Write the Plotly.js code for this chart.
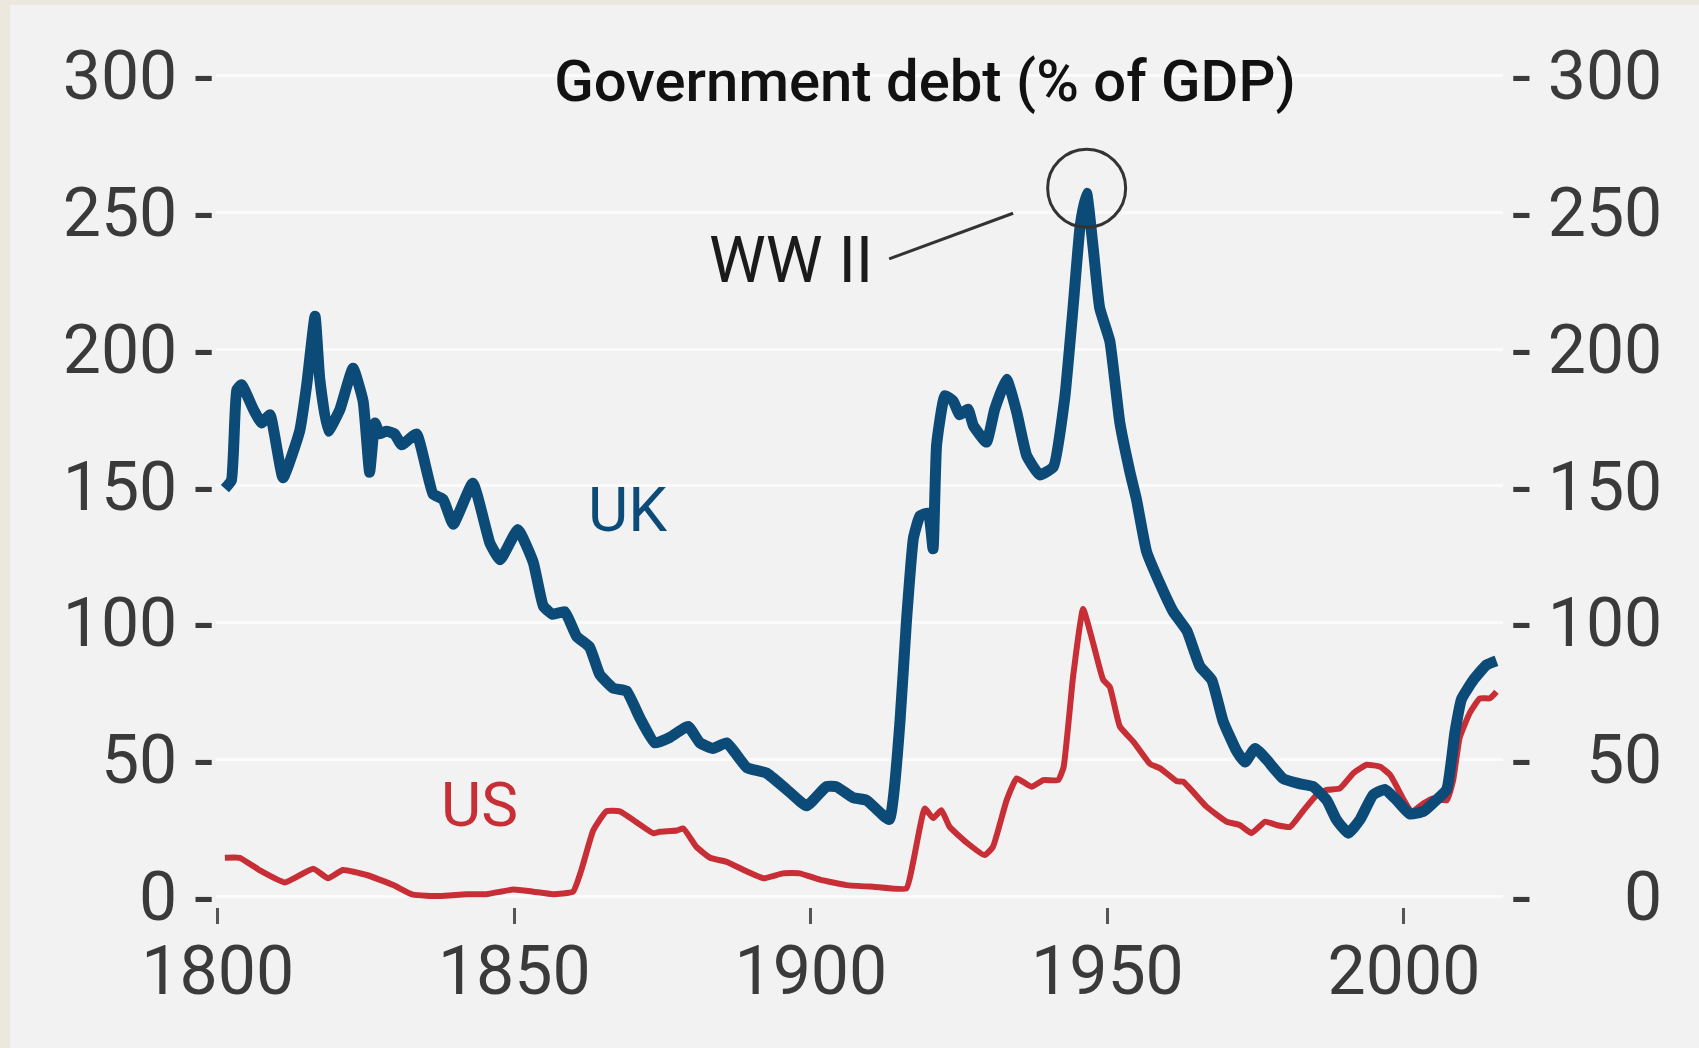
<!DOCTYPE html>
<html><head><meta charset="utf-8">
<script src="https://cdn.plot.ly/plotly-3.0.1.min.js"></script>
<style>
html,body{margin:0;padding:0;background:#ece8de;width:1699px;height:1048px;overflow:hidden;}
#chart{position:absolute;left:10px;top:5px;width:1689px;height:1043px;}
</style></head><body><div id="chart"></div>
<script>
const ukYears = [1801.2,1802.3,1803.2,1804.0,1806.0,1807.4,1808.8,1811.0,1813.8,1815.0,1816.4,1817.2,1818.6,1820.6,1822.8,1824.5,1825.6,1826.5,1827.3,1828.4,1829.8,1831.0,1833.5,1836.3,1838.0,1839.7,1843.0,1845.9,1847.6,1850.6,1853.2,1854.9,1856.5,1858.5,1860.5,1862.7,1864.4,1866.7,1868.9,1871.2,1873.7,1876.2,1879.3,1881.3,1883.5,1885.8,1889.2,1892.5,1895.9,1899.3,1902.6,1904.3,1907.1,1909.4,1913.2,1915.0,1916.1,1917.3,1918.4,1919.8,1920.6,1921.2,1922.6,1924.0,1925.1,1926.5,1927.4,1929.6,1931.0,1933.0,1934.7,1936.4,1938.6,1940.9,1942.8,1944.2,1945.4,1946.5,1947.6,1948.7,1950.4,1952.1,1953.8,1954.9,1956.6,1958.9,1961.1,1963.4,1965.6,1967.6,1969.5,1971.8,1973.2,1974.9,1976.8,1979.6,1982.5,1984.7,1987.0,1988.6,1990.6,1992.6,1994.8,1996.8,1998.8,2001.0,2003.3,2004.9,2007.2,2008.6,2009.7,2011.7,2013.9,2015.6];
const ukDebt = [149,152,185,187,178,173,176,153,170,187,212,189,170,178,193,181,155,173,169,170,169,165,169,147,145,136,151,129,123,134,122,106,103,104,95,91,81,76,75,65,56,58,62,56,54,56,47,45,39,33,40,40,36,35,28,63,100,131,139,140,127,165,183,181,176,178,172,166,178,189,177,161,154,157,182,215,245,257,237,215,203,173,155,145,126,114,104,97,84,79,64,53,49,54,50,43,41,40,35,28,23,28,37,39,35,30,31,34,39,60,72,79,84.5,86];
const usYears = [1801.2,1803.7,1807.0,1811.3,1816.1,1818.6,1821.1,1825.1,1829.6,1832.9,1837.4,1841.9,1845.3,1849.8,1853.2,1856.5,1859.9,1861.3,1863.3,1865.5,1867.8,1870.6,1873.4,1874.5,1877.4,1878.5,1880.7,1883.0,1885.8,1889.2,1892.0,1895.3,1898.1,1901.5,1906.0,1910.5,1916.1,1917.3,1919.2,1920.6,1922.0,1923.4,1926.3,1929.3,1930.7,1933.0,1934.7,1937.2,1939.2,1941.7,1942.6,1944.2,1945.9,1947.6,1949.3,1950.4,1952.1,1954.4,1957.2,1958.9,1961.7,1962.8,1966.7,1970.1,1972.3,1974.3,1976.6,1978.5,1980.8,1983.1,1985.3,1987.0,1989.2,1991.5,1993.7,1996.0,1997.7,2000.0,2001.3,2003.3,2004.9,2007.2,2008.3,2009.4,2011.1,2012.8,2014.5,2015.6];
const usDebt = [14,14,9.5,5,10,6.5,9.5,7.7,4,0.5,0,0.7,0.7,2.4,1.6,0.7,1.6,9.5,24,31,31,27,23,23.5,24,24.7,18,14,12.5,9,6.5,8.3,8.3,6,4,3.4,2.8,13,32,28.5,31.4,25.3,19.5,15,18,35,43,40,42.4,42.4,47,80,105,92.4,79,76.5,62,56.4,48.3,46.7,42,41.8,32.7,27.2,26,23,27.2,26,25.3,31.4,37,38.8,39.4,45,48,47.3,44.2,35,30.8,33.9,35.7,35,42.4,58,67,72.3,72.3,74.7];
const xTickYears = [1800,1850,1900,1950,2000];
const yTickValues = [0,50,100,150,200,250,300];
const yTickLabels = ['0','50','100','150','200','250','300'];
const titleText = 'Government debt (% of GDP)';
const seriesNames = ['UK','US'];
const noteText = 'WW II';

const UK_COLOR = '#0c4a78', US_COLOR = '#c72e35';
const FONT = 'Roboto, "DejaVu Sans Condensed", sans-serif';
const LABEL_COLOR = '#3a3a3a';

const peakIdx = ukDebt.indexOf(Math.max(...ukDebt));
const peakYear = ukYears[peakIdx], peakVal = ukDebt[peakIdx];

const traces = [
  {x: usYears, y: usDebt, type: 'scatter', mode: 'lines', name: seriesNames[1],
   line: {color: US_COLOR, width: 6, shape: 'spline', smoothing: 0.4}, hoverinfo: 'skip'},
  {x: ukYears, y: ukDebt, type: 'scatter', mode: 'lines', name: seriesNames[0],
   line: {color: UK_COLOR, width: 11, shape: 'spline', smoothing: 0.4}, hoverinfo: 'skip'}
];

const tickFont = {family: FONT, size: 68, color: LABEL_COLOR};
const yRange = [-4, 305];

const layout = {
  width: 1689, height: 1043,
  margin: {l: 206, r: 196, t: 57, b: 141, pad: 0},
  paper_bgcolor: '#f2f2f2', plot_bgcolor: '#f2f2f2',
  showlegend: false,
  font: {family: FONT},
  title: {text: titleText, x: 0.5417, xanchor: 'center', y: 0.927, yanchor: 'middle',
          font: {family: FONT, size: 58, color: '#111', weight: 500}},
  xaxis: {range: [1799.7, 2016.7], tickmode: 'array', tickvals: xTickYears,
          ticks: 'outside', ticklen: 16, tickwidth: 3, tickcolor: '#555',
          showgrid: false, zeroline: false, showline: false, tickfont: tickFont,
          ticklabelstandoff: -12},
  yaxis: {range: yRange, tickmode: 'array', tickvals: yTickValues, ticktext: yTickLabels.map(t => t + ' -'),
          showgrid: true, gridcolor: '#fbfbfb', gridwidth: 3, zeroline: false, showline: false,
          ticks: '', tickfont: tickFont, ticklabelstandoff: 2},
  yaxis2: {range: yRange, overlaying: 'y', side: 'right', tickmode: 'array', tickvals: yTickValues,
           ticktext: yTickLabels.map(t => '- ' + '\u2007'.repeat(3 - t.length) + t),
           showgrid: false, zeroline: false, showline: false, ticks: '', tickfont: tickFont,
           ticklabelstandoff: 8},
  annotations: [
    {x: 1869.1, y: 141.5, xref: 'x', yref: 'y', text: seriesNames[0], showarrow: false,
     font: {family: FONT, size: 62, color: UK_COLOR}},
    {x: 1844.2, y: 33.6, xref: 'x', yref: 'y', text: seriesNames[1], showarrow: false,
     font: {family: FONT, size: 62, color: US_COLOR}},
    {x: 1896.6, y: 232.5, xref: 'x', yref: 'y', text: noteText, showarrow: false,
     font: {family: FONT, size: 64, color: '#1b1b1b'}}
  ],
  shapes: [
    {type: 'circle', xref: 'x', yref: 'y', xsizemode: 'pixel', ysizemode: 'pixel',
     xanchor: peakYear, yanchor: peakVal, x0: -39, x1: 39, y0: -34, y1: 44,
     line: {color: '#333', width: 3}},
    {type: 'line', xref: 'x', yref: 'y', x0: 1913.2, y0: 233, x1: 1934.1, y1: 249.7,
     line: {color: '#333', width: 3}}
  ]
};

traces.push({x: [ukYears[0]], y: [ukDebt[0]], yaxis: 'y2', type: 'scatter', mode: 'markers',
             marker: {opacity: 0}, hoverinfo: 'skip', showlegend: false});

Plotly.newPlot('chart', traces, layout, {displayModeBar: false, staticPlot: true});
</script></body></html>
